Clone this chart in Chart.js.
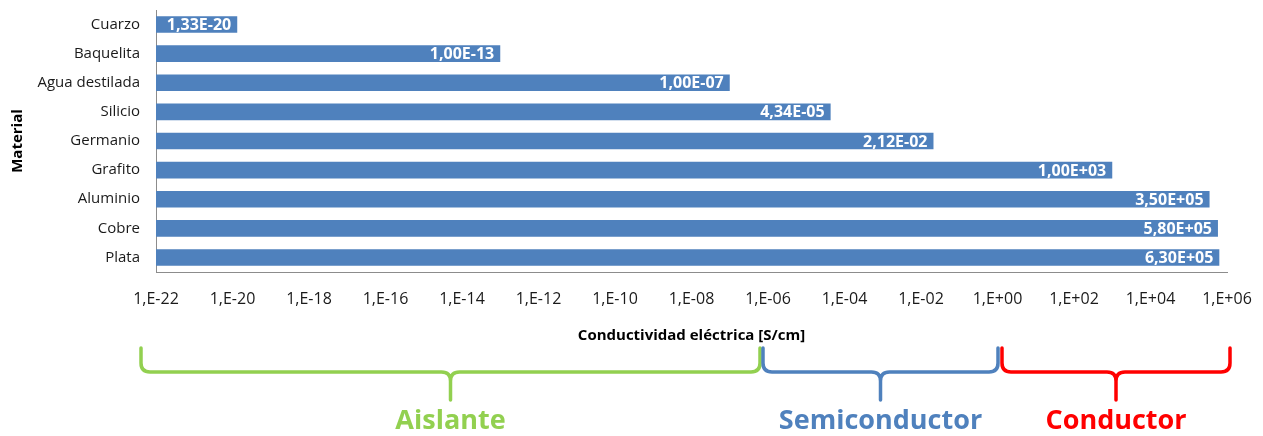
<!DOCTYPE html>
<html>
<head>
<meta charset="utf-8">
<script src="https://cdn.jsdelivr.net/npm/chart.js@4"></script>
<style>
  html, body { margin: 0; padding: 0; background: #ffffff; }
  #wrap { width: 1263px; height: 436px; }
</style>
</head>
<body>
<div id="wrap"><canvas id="chart" width="1263" height="436"></canvas></div>
<script>
// Materials and their electrical conductivity in S/cm
const materials = ['Cuarzo', 'Baquelita', 'Agua destilada', 'Silicio', 'Germanio', 'Grafito', 'Aluminio', 'Cobre', 'Plata'];
const conductivity = [1.33e-20, 1e-13, 1e-7, 4.34e-5, 2.12e-2, 1e3, 3.5e5, 5.8e5, 6.3e5];

// Axis ticks every two decades
const tickValues = [1e-22, 1e-20, 1e-18, 1e-16, 1e-14, 1e-12, 1e-10, 1e-8, 1e-6, 1e-4, 1e-2, 1e0, 1e2, 1e4, 1e6];
const tickLabels = ['1,E-22', '1,E-20', '1,E-18', '1,E-16', '1,E-14', '1,E-12', '1,E-10', '1,E-08', '1,E-06', '1,E-04', '1,E-02', '1,E+00', '1,E+02', '1,E+04', '1,E+06'];

// Material classes shown as braces under the axis
const classNames = ['Aislante', 'Semiconductor', 'Conductor'];
const classFrom = [1e-22, 1e-6, 1e0];
const classTo = [1e-6, 1e0, 1e6];
const classColors = ['#92D050', '#4F81BD', '#FF0000'];

const FONT = '"Open Sans", "Liberation Sans", sans-serif';

// Scientific notation with comma decimal and two-digit exponent, e.g. 2,12E-02
function sci(v) {
  const [m, e] = v.toExponential(2).split('e');
  const n = parseInt(e, 10);
  const sign = n < 0 ? '-' : '+';
  const abs = Math.abs(n);
  return m.replace('.', ',') + 'E' + sign + (abs < 10 ? '0' + abs : String(abs));
}

// Value labels written inside the end of each bar
const valueLabels = {
  id: 'valueLabels',
  afterDatasetsDraw(chart) {
    const ctx = chart.ctx;
    const meta = chart.getDatasetMeta(0);
    ctx.save();
    ctx.font = 'bold 16px ' + FONT;
    ctx.fillStyle = '#ffffff';
    ctx.textAlign = 'right';
    ctx.textBaseline = 'middle';
    meta.data.forEach((bar, i) => {
      ctx.fillText(sci(conductivity[i]), bar.x - 6, bar.y + 1);
    });
    ctx.restore();
  }
};

// Curly braces marking the conductivity ranges of each class
const classBraces = {
  id: 'classBraces',
  afterDraw(chart, args, opts) {
    const ctx = chart.ctx;
    const x = chart.scales.x;
    const yTop = 348, yMid = 372, yTip = 400, r = 9;
    ctx.save();
    ctx.lineWidth = 3.5;
    ctx.lineCap = 'round';
    ctx.lineJoin = 'round';
    classNames.forEach((name, i) => {
      const x0 = x.getPixelForValue(classFrom[i]) + opts.insetLeft[i];
      const x1 = x.getPixelForValue(classTo[i]) + opts.insetRight[i];
      const xc = (x0 + x1) / 2;
      ctx.strokeStyle = classColors[i];
      ctx.beginPath();
      ctx.moveTo(x0, yTop);
      ctx.lineTo(x0, yMid - r);
      ctx.quadraticCurveTo(x0, yMid, x0 + r, yMid);
      ctx.lineTo(xc - r, yMid);
      ctx.quadraticCurveTo(xc, yMid, xc, yMid + r);
      ctx.lineTo(xc, yTip);
      ctx.moveTo(xc, yMid + r);
      ctx.quadraticCurveTo(xc, yMid, xc + r, yMid);
      ctx.lineTo(x1 - r, yMid);
      ctx.quadraticCurveTo(x1, yMid, x1, yMid - r);
      ctx.lineTo(x1, yTop);
      ctx.stroke();
      ctx.fillStyle = classColors[i];
      ctx.font = 'bold 27px ' + FONT;
      ctx.textAlign = 'center';
      ctx.textBaseline = 'middle';
      ctx.fillText(name, xc, 421);
    });
    ctx.restore();
  }
};

new Chart(document.getElementById('chart'), {
  type: 'bar',
  data: {
    labels: materials,
    datasets: [{
      data: conductivity,
      backgroundColor: '#4F81BD',
      borderWidth: 0,
      categoryPercentage: 1,
      barPercentage: 0.57
    }]
  },
  options: {
    indexAxis: 'y',
    responsive: false,
    animation: false,
    layout: { padding: { top: 10, right: 36, bottom: 0, left: 0 } },
    plugins: {
      legend: { display: false },
      tooltip: { enabled: false },
      classBraces: { insetLeft: [-15, -5, 4.5], insetRight: [-8, 0.5, 3] }
    },
    scales: {
      x: {
        type: 'logarithmic',
        min: 1e-22,
        max: 1e6,
        grid: { display: false, drawTicks: false },
        border: { display: true, color: '#8c8c8c', width: 1 },
        afterBuildTicks(scale) {
          scale.ticks = tickValues.map(v => ({ value: v }));
        },
        afterFit(scale) {
          scale.height = 164;
          scale.paddingLeft = 0;
          scale.paddingRight = 0;
        },
        ticks: {
          autoSkip: false,
          maxRotation: 0,
          padding: 18,
          color: '#1a1a1a',
          font: { family: FONT, size: 16 },
          callback(value, index) { return tickLabels[index]; }
        },
        title: {
          display: true,
          text: 'Conductividad eléctrica [S/cm]',
          color: '#000000',
          font: { family: FONT, size: 15, weight: 'bold' },
          padding: { top: 0, bottom: 91 }
        }
      },
      y: {
        grid: { display: false, drawTicks: false },
        border: { display: true, color: '#8c8c8c', width: 1 },
        afterFit(scale) {
          scale.width = 156;
          scale.paddingTop = 0;
          scale.paddingBottom = 0;
        },
        ticks: {
          padding: 16,
          color: '#1a1a1a',
          font: { family: FONT, size: 15 }
        },
        title: {
          display: true,
          text: 'Material',
          color: '#000000',
          font: { family: FONT, size: 15, weight: 'bold' },
          padding: { top: 9, bottom: 0 }
        }
      }
    }
  },
  plugins: [valueLabels, classBraces]
});
</script>
</body>
</html>
